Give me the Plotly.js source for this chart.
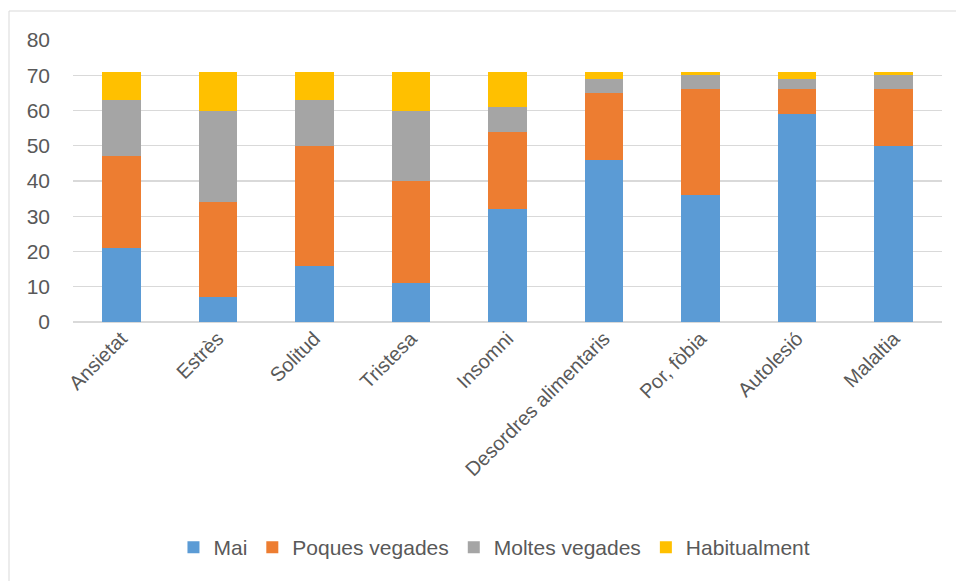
<!DOCTYPE html>
<html>
<head>
<meta charset="utf-8">
<script src="https://cdn.plot.ly/plotly-3.0.1.min.js"></script>
<style>
  html, body { margin: 0; padding: 0; background: #ffffff; }
  #chart { width: 956px; height: 581px; }
</style>
</head>
<body>
<div id="chart"></div>
<script>
const categories = ["Ansietat", "Estrès", "Solitud", "Tristesa", "Insomni", "Desordres alimentaris", "Por, fòbia", "Autolesió", "Malaltia"];
const mai = [21, 7, 16, 11, 32, 46, 36, 59, 50];
const poquesVegades = [26, 27, 34, 29, 22, 19, 30, 7, 16];
const moltesVegades = [16, 26, 13, 20, 7, 4, 4, 3, 4];
const habitualment = [8, 11, 8, 11, 10, 2, 1, 2, 1];
const yTicks = [0, 10, 20, 30, 40, 50, 60, 70, 80];

const seriesNames = ["Mai", "Poques vegades", "Moltes vegades", "Habitualment"];
const seriesValues = [mai, poquesVegades, moltesVegades, habitualment];
const seriesColors = ["#5B9BD5", "#ED7D31", "#A5A5A5", "#FFC000"];

const FONT = "'Liberation Sans', Arial, sans-serif";

const traces = seriesNames.map((name, i) => ({
  type: "bar",
  name: name,
  x: categories,
  y: seriesValues[i],
  marker: { color: seriesColors[i], line: { width: 0 } },
  hoverinfo: "x+y+name"
}));

const layout = {
  width: 956,
  height: 581,
  barmode: "stack",
  bargap: 0.6,
  paper_bgcolor: "#ffffff",
  plot_bgcolor: "#ffffff",
  margin: { l: 73, r: 14, t: 40, b: 259 },
  font: { family: FONT, color: "#595959", size: 21 },
  xaxis: {
    tickangle: -45,
    showgrid: false,
    showline: false,
    zeroline: false,
    ticks: "",
    tickfont: { family: FONT, size: 20, color: "#595959" }
  },
  yaxis: {
    range: [0, 80],
    tickvals: yTicks,
    ticktext: yTicks.map(String),
    showgrid: true,
    gridcolor: "#d9d9d9",
    gridwidth: 1.3,
    zeroline: true,
    zerolinecolor: "#d9d9d9",
    zerolinewidth: 1.3,
    showline: false,
    ticks: "",
    ticklabelstandoff: 22,
    tickfont: { family: FONT, size: 21, color: "#595959" }
  },
  legend: {
    orientation: "h",
    x: 0.485,
    xanchor: "center",
    y: -0.80,
    yanchor: "middle",
    font: { family: FONT, size: 21, color: "#595959" },
    traceorder: "normal",
    itemclick: false
  },
  shapes: [{
    type: "rect",
    xref: "paper", yref: "paper",
    x0: (9 - 73) / 869, x1: (990 - 73) / 869,
    y0: (322 - 620) / 282, y1: (322 - 11) / 282,
    line: { color: "#d9d9d9", width: 1 },
    fillcolor: "rgba(0,0,0,0)",
    layer: "below"
  }]
};

Plotly.newPlot("chart", traces, layout, { displayModeBar: false, staticPlot: true });
</script>
</body>
</html>
